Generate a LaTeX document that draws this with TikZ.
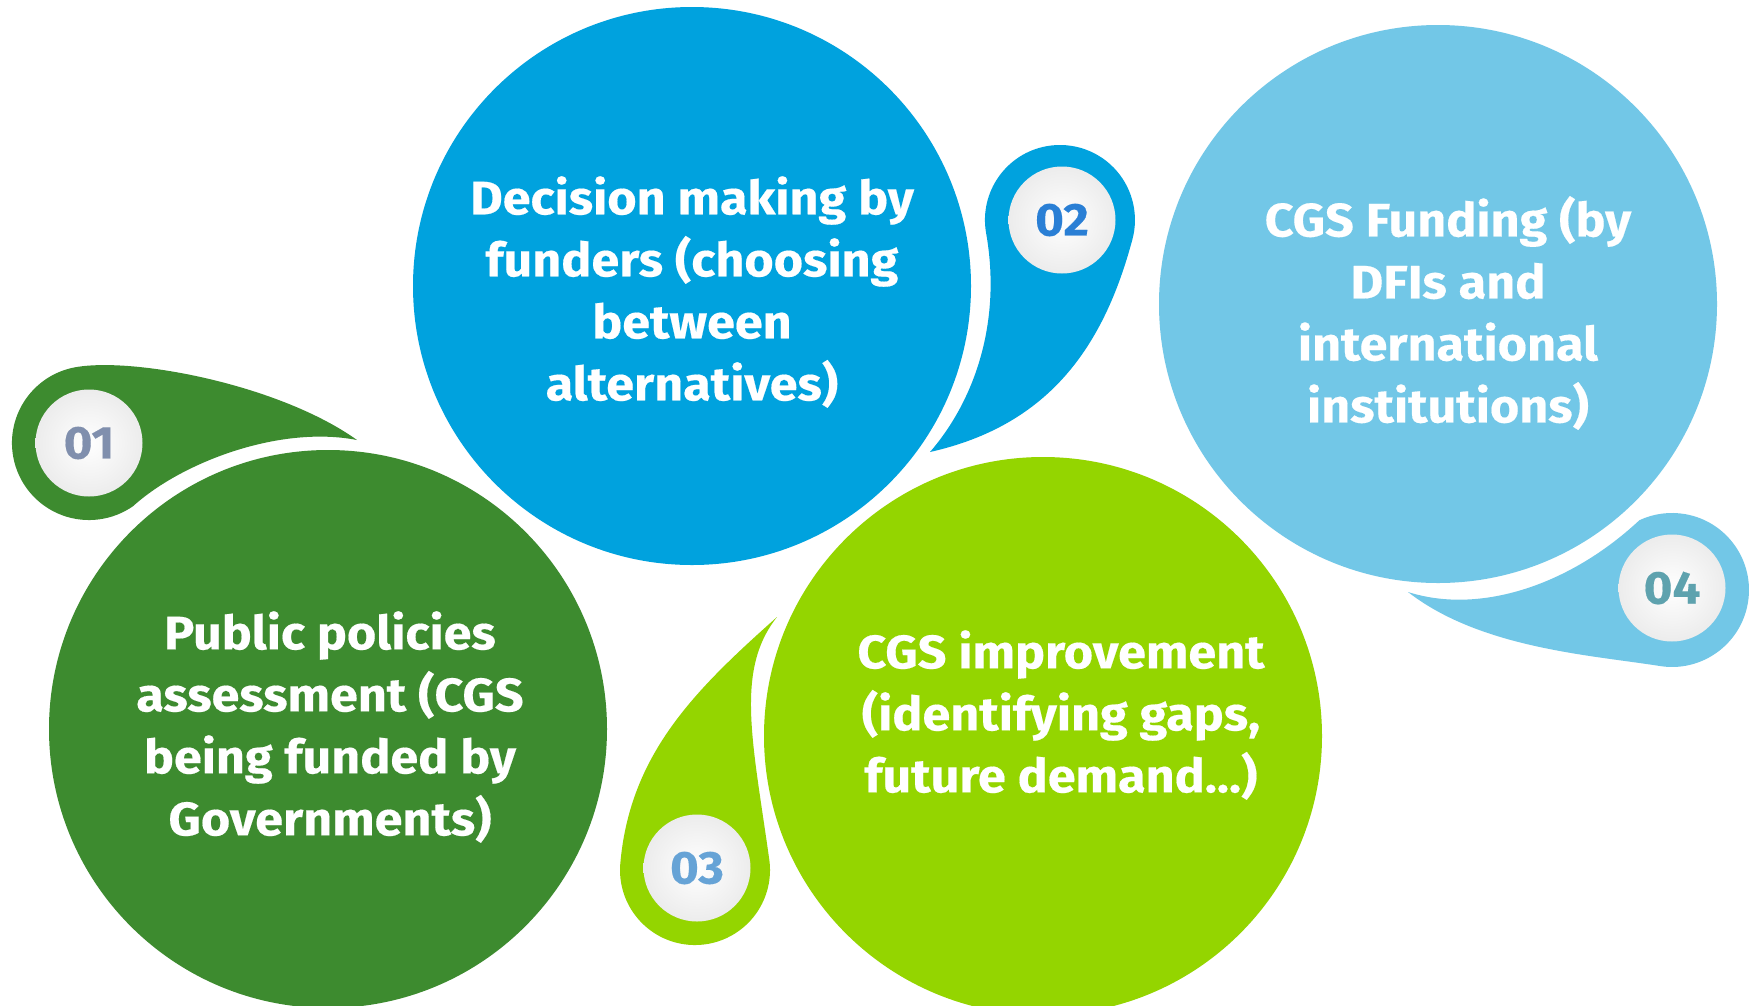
\documentclass[tikz,border=0pt]{standalone}
\usepackage{fontspec}
\setmainfont{Fira Sans}[FakeStretch=1.07, BoldFeatures={FakeBold=0.35}]
\definecolor{leafgreen}{HTML}{3D8B2F}
\definecolor{skyblue}{HTML}{00A2DE}
\definecolor{paleblue}{HTML}{72C7E7}
\definecolor{limegreen}{HTML}{94D500}
\definecolor{badgegray}{HTML}{ECECEC}
\definecolor{numA}{HTML}{808FAD}
\definecolor{numB}{HTML}{2A7FD5}
\definecolor{numC}{HTML}{66A3D6}
\definecolor{numD}{HTML}{5EA2AE}
\begin{document}
\begin{tikzpicture}[x=1pt,y=-1pt,
  bigdisc/.style={circle, minimum size=558pt, inner sep=0pt},
  badge/.style={circle, minimum size=107pt, inner sep=0pt, shading=radial,
    inner color=white, outer color=badgegray,
    font=\bfseries\fontsize{46}{46}\selectfont},
  caption/.style={text=white, align=center, inner sep=0pt,
    font=\bfseries\fontsize{47}{62}\selectfont}]
\fill[white] (0,0) rectangle (1749,1005);
\useasboundingbox (0,0) rectangle (1749,1005);

% teardrop tails behind the numbered badges
\fill[leafgreen] (357,440) .. controls (280,385) and (134.7,356.8) .. (75.6,367.2)
  arc[start angle=-100, end angle=-305, radius=77]
  .. controls (182,462) and (280,425) .. cycle;
\fill[skyblue] (930,452) .. controls (975,400) and (1001.8,321.6) .. (986.1,233)
  arc[start angle=170, end angle=375, radius=75]
  .. controls (1103.9,345.7) and (1050,425) .. cycle;
\fill[limegreen] (777,617) .. controls (695,690) and (629.9,753.9) .. (620.3,863.5)
  arc[start angle=185, end angle=-8, radius=75]
  .. controls (752.6,740.8) and (735,670) .. cycle;
\fill[paleblue] (1408,592) .. controls (1480,648) and (1589.6,655) .. (1658.6,665.8)
  arc[start angle=100, end angle=-115, radius=77]
  .. controls (1570,585) and (1480,615) .. cycle;

% main discs
\node[bigdisc, fill=leafgreen] (policy) at (328,729) {};
\node[bigdisc, fill=skyblue] (decision) at (692,286) {};
\node[bigdisc, fill=paleblue] (funding) at (1438,304) {};
\node[bigdisc, fill=limegreen] (improve) at (1043,736) {};

% numbered badges
\node[badge, text=numA] (b1) at (89,443) {01};
\node[badge, text=numB] (b2) at (1062,220) {02};
\node[badge, text=numC] (b3) at (697,868) {03};
\node[badge, text=numD] (b4) at (1672,588) {04};

% captions
\node[caption] (t1) at (330,727) {Public policies\\assessment (CGS\\being funded by\\Governments)};
\node[caption] (t2) at (692,292) {Decision making by\\funders (choosing\\between\\alternatives)};
\node[caption] (t3) at (1061,715) {CGS improvement\\(identifying gaps,\\future demand...)};
\node[caption] (t4) at (1448,313) {CGS Funding (by\\DFIs and\\international\\institutions)};
\end{tikzpicture}
\end{document}
